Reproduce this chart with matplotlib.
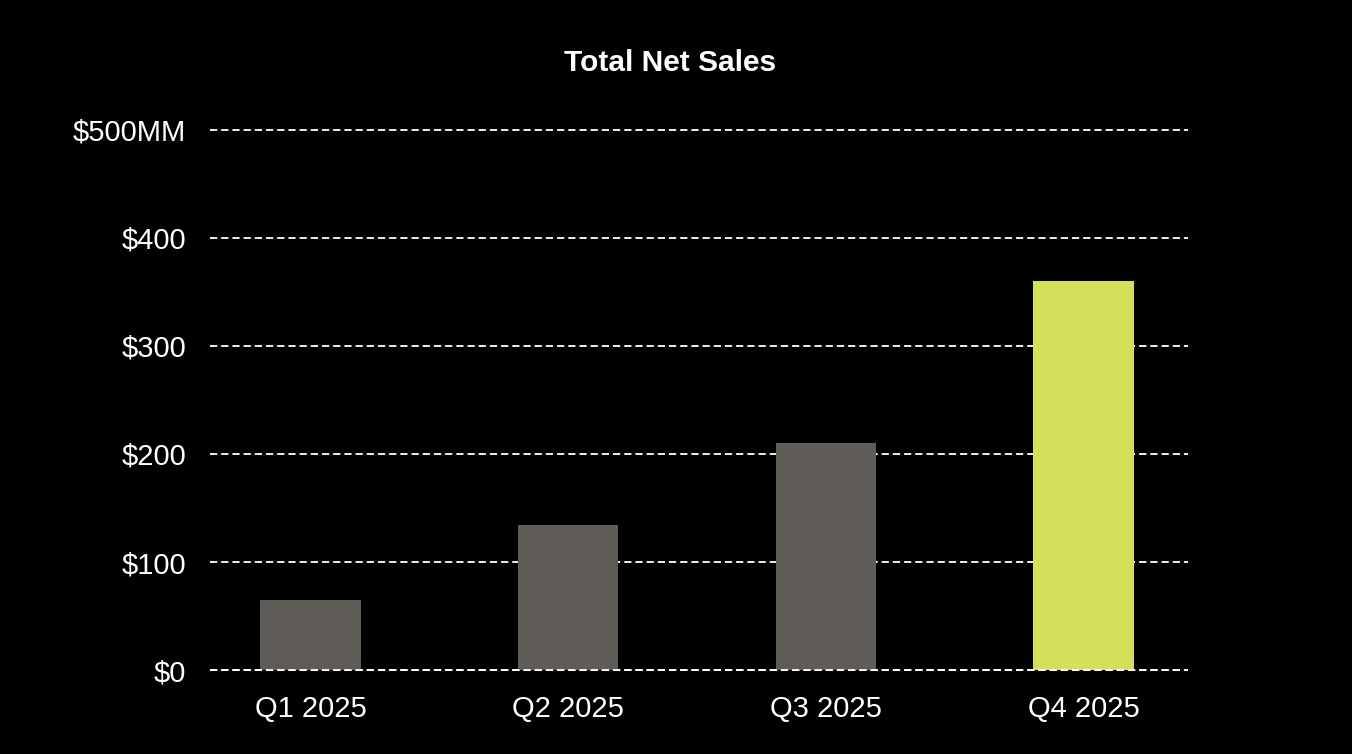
import matplotlib.pyplot as plt

# data ($MM)
quarters = ['Q1 2025', 'Q2 2025', 'Q3 2025', 'Q4 2025']
net_sales = [65, 134, 210, 360]
bar_colors = ['#5f5b56', '#5f5b56', '#5f5b56', '#d4e05a']
y_ticks = [0, 100, 200, 300, 400, 500]
y_labels = ['$0', '$100', '$200', '$300', '$400', '$500MM']

plt.rcParams['font.family'] = ['Liberation Sans', 'DejaVu Sans']

fig = plt.figure(figsize=(13.52, 7.54), dpi=100, facecolor='black')
ax = fig.add_axes([0.1553, 0.1114, 0.7234, 0.7162])
ax.set_facecolor('black')

# dashed grid behind the bars
for t in y_ticks:
    ax.axhline(t, color='white', linestyle=(0, (4, 2.2)), linewidth=1.3,
               zorder=1, clip_on=False)

x = range(len(quarters))
ax.bar(x, net_sales, width=0.39, color=bar_colors, zorder=2)

# zero line sits on top of the bar bases
ax.axhline(0, color='white', linestyle=(0, (4, 2.2)), linewidth=1.3,
           zorder=3, clip_on=False)

ax.set_xlim(-0.39, 3.405)
ax.set_ylim(0, 500)
ax.set_xticks(list(x))
ax.set_xticklabels(quarters)
ax.set_yticks(y_ticks)
ax.set_yticklabels(y_labels)
ax.tick_params(axis='both', colors='white', labelsize=21, length=0)
ax.tick_params(axis='y', pad=17)
ax.tick_params(axis='x', pad=18)

for side in ax.spines.values():
    side.set_visible(False)

fig.text(0.4955, 0.916, 'Total Net Sales', color='white', fontsize=21.5,
         fontweight='bold', ha='center', va='center')

fig.savefig('out.png', dpi=100, facecolor='black')
